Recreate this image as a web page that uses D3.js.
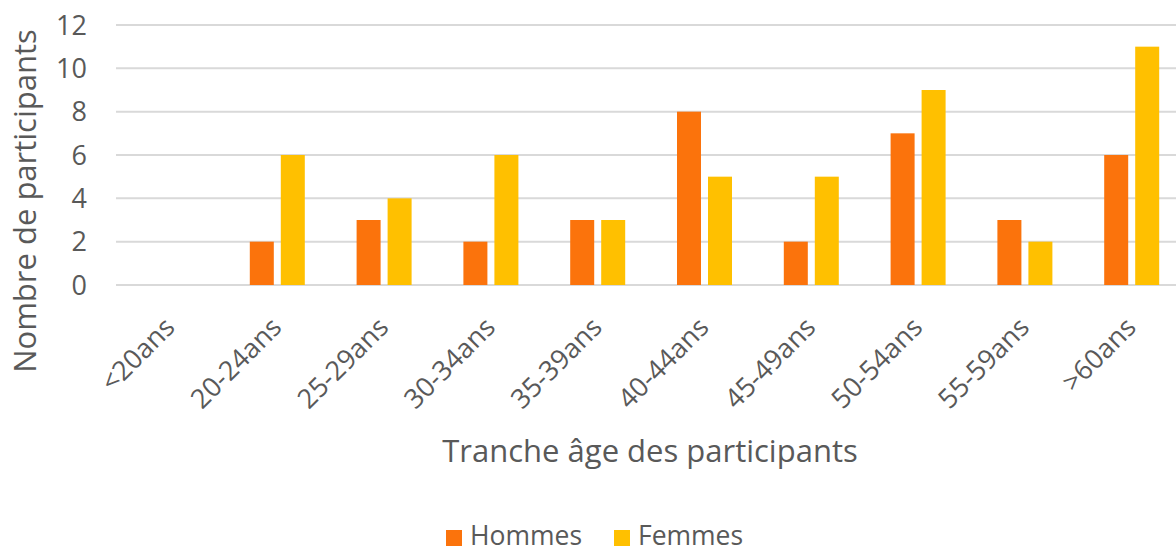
<!DOCTYPE html>
<html>
<head>
<meta charset="utf-8">
<script src="https://cdn.jsdelivr.net/npm/d3@7"></script>
<style>
  html, body { margin: 0; padding: 0; background: #fff; }
  svg { display: block; font-family: "Open Sans", "Noto Sans", sans-serif; }
</style>
</head>
<body>
<svg id="chart" width="1176" height="553"></svg>
<script>
// Participants by age bracket and sex
const categories = ["<20ans", "20-24ans", "25-29ans", "30-34ans", "35-39ans",
                    "40-44ans", "45-49ans", "50-54ans", "55-59ans", ">60ans"];
const hommes = [0, 2, 3, 2, 3, 8, 2, 7, 3, 6];
const femmes = [0, 6, 4, 6, 3, 5, 5, 9, 2, 11];
const yTicks = [0, 2, 4, 6, 8, 10, 12];
const seriesNames = ["Hommes", "Femmes"];
const seriesColors = ["#FB730C", "#FFC000"];

const W = 1176, H = 553;
const margin = { left: 116, right: -8, top: 25, bottom: 268 };
const svg = d3.select("#chart");
const textColor = "#595959";

const x = d3.scaleBand()
  .domain(categories)
  .range([margin.left, W - margin.right])
  .paddingInner(0).paddingOuter(0);

const y = d3.scaleLinear()
  .domain([0, 12])
  .range([H - margin.bottom, margin.top]);

// Two bars per bracket, offset inside each band
const inner = d3.scaleBand()
  .domain(seriesNames)
  .range([27, 82])
  .paddingInner(0.2258)
  .paddingOuter(0);

// Gridlines
svg.append("g")
  .selectAll("line")
  .data(yTicks)
  .join("line")
  .attr("x1", margin.left)
  .attr("x2", W - margin.right)
  .attr("y1", d => y(d))
  .attr("y2", d => y(d))
  .attr("stroke", "#D9D9D9")
  .attr("stroke-width", 2);

// Y tick labels
svg.append("g")
  .selectAll("text")
  .data(yTicks)
  .join("text")
  .attr("x", 87)
  .attr("y", d => y(d))
  .attr("dy", "0.36em")
  .attr("text-anchor", "end")
  .attr("fill", textColor)
  .style("font-size", "27px")
  .text(d => d);

// Bars
const rows = categories.map((c, i) => ({ cat: c, values: [hommes[i], femmes[i]] }));
const groups = svg.append("g")
  .selectAll("g")
  .data(rows)
  .join("g")
  .attr("transform", d => `translate(${x(d.cat)},0)`);

groups.selectAll("rect")
  .data(d => d.values.map((v, j) => ({ v, name: seriesNames[j], color: seriesColors[j] })))
  .join("rect")
  .attr("x", d => inner(d.name))
  .attr("width", inner.bandwidth())
  .attr("y", d => y(d.v))
  .attr("height", d => y(0) - y(d.v))
  .attr("fill", d => d.color);

// X tick labels (rotated)
svg.append("g")
  .selectAll("text")
  .data(categories)
  .join("text")
  .attr("transform", d => `translate(${x(d) + x.bandwidth() / 2 + 7},${y(0) + 44}) rotate(-45)`)
  .attr("text-anchor", "end")
  .attr("fill", textColor)
  .style("font-size", "27px")
  .text(d => d);

// Axis titles
svg.append("text")
  .attr("x", 650)
  .attr("y", 462)
  .attr("text-anchor", "middle")
  .attr("fill", textColor)
  .style("font-size", "31px")
  .text("Tranche âge des participants");

svg.append("text")
  .attr("transform", `translate(36,201) rotate(-90)`)
  .attr("text-anchor", "middle")
  .attr("fill", textColor)
  .style("font-size", "31px")
  .text("Nombre de participants");

// Legend
const legend = svg.append("g");
const legendItems = [
  { name: seriesNames[0], color: seriesColors[0], x: 446 },
  { name: seriesNames[1], color: seriesColors[1], x: 614 }
];
legendItems.forEach(it => {
  legend.append("rect")
    .attr("x", it.x).attr("y", 530)
    .attr("width", 16).attr("height", 16)
    .attr("fill", it.color);
  legend.append("text")
    .attr("x", it.x + 24).attr("y", 545)
    .attr("fill", textColor)
    .style("font-size", "26.5px")
    .text(it.name);
});
</script>
</body>
</html>
